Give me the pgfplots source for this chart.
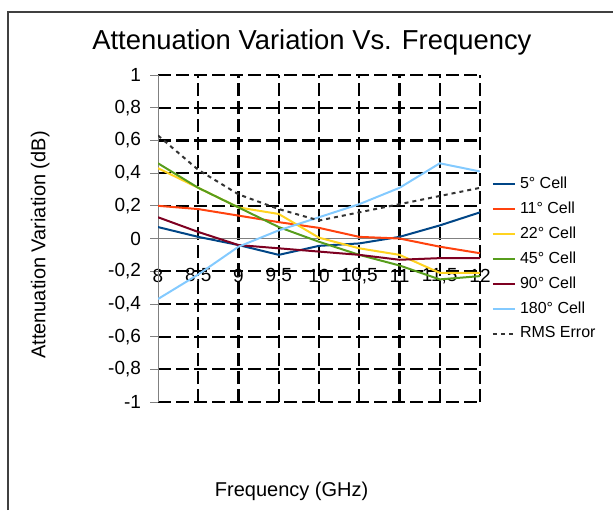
\documentclass[border=0pt]{standalone}
\usepackage{fontspec}
\setmainfont{Liberation Sans}
\usepackage{pgfplots}
\pgfplotsset{compat=1.18}

\definecolor{c5}{HTML}{004586}
\definecolor{c11}{HTML}{FF420E}
\definecolor{c22}{HTML}{FFD320}
\definecolor{c45}{HTML}{579D1C}
\definecolor{c90}{HTML}{7E0021}
\definecolor{c180}{HTML}{83CAFF}

\begin{document}
\begin{tikzpicture}
\useasboundingbox (0,0) rectangle (306.5pt,255pt);
\draw[line width=1pt, black!75] (4pt,0pt) -- (4pt,249pt) -- (306.5pt,249pt);
\begin{axis}[
    at={(79pt,54pt)}, anchor=south west,
    scale only axis,
    width=161pt, height=163.5pt,
    xmin=8, xmax=12, ymin=-1, ymax=1,
    xtick={8.5,9,...,12},
    extra x ticks={8},
    extra x tick style={grid=none},
    ytick={-1,-0.8,-0.6,-0.4,-0.2,0.2,0.4,0.6,0.8,1},
    extra y ticks={0},
    extra y tick style={grid=none},
    /pgf/number format/use comma,
    /pgf/number format/assume math mode=true,
    grid=major,
    grid style={black, line width=1.1pt, dash pattern=on 6.5pt off 2.5pt},
    axis line style={draw=none},
    xtick style={draw=none},
    ytick style={gray, thin},
    ytick pos=left,
    tick align=outside,
    major tick length=4pt,
    xticklabel style={anchor=center, yshift=67pt, font=\fontsize{9.5}{11}\selectfont},
    yticklabel style={font=\fontsize{9.5}{11}\selectfont, xshift=-1pt},
    title={Attenuation Variation Vs. Frequency},
    every axis title/.style={at={(0.478,1.101)}, anchor=center, font=\fontsize{13.7}{16}\selectfont},
    ylabel={Attenuation Variation (dB)},
    every axis y label/.style={at={(-0.366,0.48)}, anchor=center, rotate=90, font=\fontsize{10}{12}\selectfont},
    xlabel={Frequency (GHz)},
    every axis x label/.style={at={(0.415,-0.274)}, anchor=center, font=\fontsize{10}{12}\selectfont},
    legend style={draw=none, fill=none, at={(1.036,0.703)}, anchor=north west,
        font=\fontsize{8}{9.6}\selectfont, row sep=1.2pt, inner sep=0pt},
    legend cell align=left,
    legend image code/.code={\draw[#1] (0pt,0pt) -- (11pt,0pt);},
  ]
  \addplot[gray, thin, forget plot] coordinates {(8,-1) (8,1)};
  \addplot[gray, thin, forget plot] coordinates {(8,0) (12,0)};
  \addplot[c5, line width=1pt] coordinates {
    (8,0.07) (8.5,0.01) (9,-0.04) (9.5,-0.10) (10,-0.045) (10.5,-0.03) (11,0.01) (11.5,0.08) (12,0.16)};
  \addlegendentry{5° Cell}
  \addplot[c11, line width=1pt] coordinates {
    (8,0.20) (8.5,0.18) (9,0.14) (9.5,0.10) (10,0.065) (10.5,0.01) (11,0.00) (11.5,-0.05) (12,-0.09)};
  \addlegendentry{11° Cell}
  \addplot[c22, line width=1pt] coordinates {
    (8,0.43) (8.5,0.31) (9,0.19) (9.5,0.15) (10,0.005) (10.5,-0.06) (11,-0.10) (11.5,-0.21) (12,-0.21)};
  \addlegendentry{22° Cell}
  \addplot[c45, line width=1pt] coordinates {
    (8,0.46) (8.5,0.31) (9,0.19) (9.5,0.07) (10,-0.02) (10.5,-0.10) (11,-0.165) (11.5,-0.25) (12,-0.23)};
  \addlegendentry{45° Cell}
  \addplot[c90, line width=1pt] coordinates {
    (8,0.13) (8.5,0.04) (9,-0.04) (9.5,-0.06) (10,-0.08) (10.5,-0.10) (11,-0.13) (11.5,-0.12) (12,-0.12)};
  \addlegendentry{90° Cell}
  \addplot[c180, line width=1pt] coordinates {
    (8,-0.37) (8.5,-0.22) (9,-0.05) (9.5,0.05) (10,0.13) (10.5,0.21) (11,0.31) (11.5,0.46) (12,0.41)};
  \addlegendentry{180° Cell}
  \addplot[black!80, line width=1pt, dash pattern=on 2pt off 2pt] coordinates {
    (8,0.63) (8.5,0.42) (9,0.27) (9.5,0.18) (10,0.11) (10.5,0.16) (11,0.21) (11.5,0.26) (12,0.31)};
  \addlegendentry{RMS Error}
\end{axis}
\end{tikzpicture}
\end{document}
